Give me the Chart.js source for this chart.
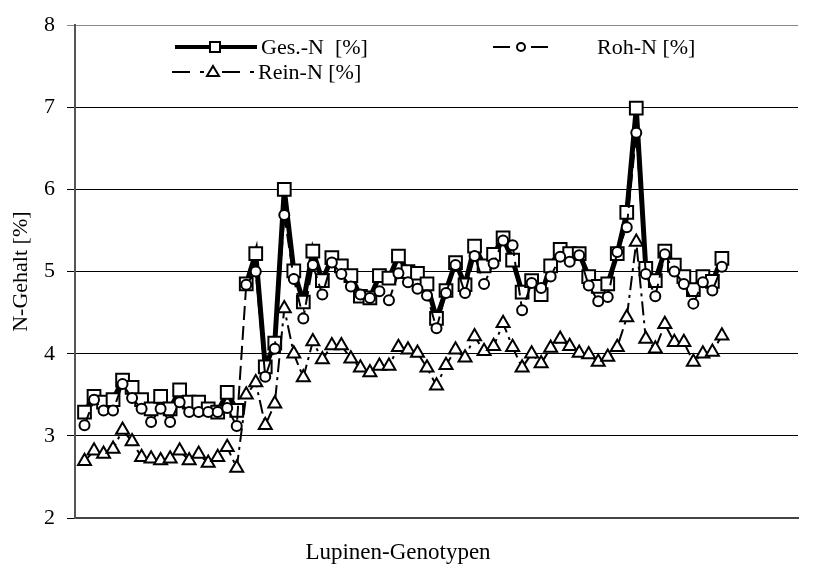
<!DOCTYPE html>
<html>
<head>
<meta charset="utf-8">
<script src="https://cdn.jsdelivr.net/npm/chart.js@4"></script>
<style>
  html, body { margin: 0; padding: 0; background: #fff; }
  #wrap { width: 826px; height: 574px; }
</style>
</head>
<body>
<div id="wrap"><canvas id="chart" width="826" height="574"></canvas></div>
<script>
// N content per lupin genotype (68 genotypes)
const gesN = [
  3.29, 3.48, 3.41, 3.44, 3.68, 3.59, 3.44, 3.33, 3.48, 3.33, 3.56, 3.41, 3.41, 3.33, 3.29, 3.53, 3.31,
  4.85, 5.22, 3.84, 4.13, 6.00, 5.01, 4.63, 5.25, 4.89, 5.17, 5.07, 4.95, 4.70, 4.68, 4.95, 4.92,
  5.19, 5.00, 4.98, 4.85, 4.43, 4.77, 5.11, 4.84, 5.31, 5.07, 5.21, 5.41, 5.14, 4.75, 4.89, 4.72,
  5.07, 5.27, 5.22, 5.22, 4.94, 4.82, 4.85, 5.22, 5.72, 6.99, 5.04, 4.89, 5.25, 5.08, 4.94, 4.78,
  4.94, 4.88, 5.16
];
const rohN = [
  3.13, 3.44, 3.31, 3.31, 3.63, 3.46, 3.33, 3.17, 3.33, 3.17, 3.41, 3.29, 3.29, 3.29, 3.29, 3.34, 3.12,
  4.84, 5.00, 3.72, 4.06, 5.69, 4.91, 4.43, 5.08, 4.72, 5.11, 4.97, 4.82, 4.72, 4.68, 4.76, 4.65,
  4.98, 4.87, 4.79, 4.71, 4.31, 4.74, 5.08, 4.74, 5.19, 4.85, 5.10, 5.38, 5.32, 4.53, 4.86, 4.80,
  4.94, 5.18, 5.12, 5.20, 4.83, 4.64, 4.69, 5.24, 5.54, 6.69, 4.97, 4.70, 5.21, 5.00, 4.85, 4.61,
  4.87, 4.77, 5.06
];
const reinN = [
  2.69, 2.82, 2.78, 2.84, 3.07, 2.93, 2.74, 2.72, 2.70, 2.72, 2.82, 2.70, 2.78, 2.67, 2.74, 2.86, 2.61,
  3.50, 3.65, 3.13, 3.39, 4.55, 4.00, 3.71, 4.15, 3.93, 4.10, 4.10, 3.94, 3.83, 3.77, 3.85, 3.85,
  4.08, 4.05, 4.01, 3.83, 3.61, 3.86, 4.05, 3.95, 4.21, 4.03, 4.09, 4.37, 4.08, 3.83, 4.00, 3.88,
  4.07, 4.18, 4.09, 4.01, 3.99, 3.90, 3.96, 4.08, 4.44, 5.36, 4.18, 4.06, 4.36, 4.14, 4.14, 3.90,
  4.00, 4.02, 4.22
];
const seriesNames = ['Ges.-N  [%]', 'Roh-N [%]', 'Rein-N [%]'];
const xTitle = 'Lupinen-Genotypen';
const yTitle = 'N-Gehalt [%]';
const yTicks = [2, 3, 4, 5, 6, 7, 8];
const xSlots = 76;          // category slots on the x axis (genotypes + empty tail)
const groupBreak = 16;      // Ges.-N line is not joined between the two groups

const FONT = 'Liberation Serif, Times New Roman, serif';

function toPoints(values) {
  return values.map((v, i) => ({ x: i + 1, y: v }));
}

// legend + x title drawn by hand, Excel-like layout
const legendPlugin = {
  id: 'manualLegend',
  afterDraw(chart) {
    const ctx = chart.ctx;
    ctx.save();
    ctx.fillStyle = '#000';
    ctx.strokeStyle = '#000';
    ctx.font = '22px ' + FONT;
    ctx.textBaseline = 'middle';

    // Ges.-N
    let y = 47;
    ctx.lineWidth = 4;
    ctx.setLineDash([]);
    ctx.beginPath(); ctx.moveTo(175, y); ctx.lineTo(257, y); ctx.stroke();
    ctx.lineWidth = 2;
    ctx.fillStyle = '#fff';
    ctx.fillRect(210, y - 5, 10, 10);
    ctx.strokeRect(210, y - 5, 10, 10);
    ctx.fillStyle = '#000';
    ctx.fillText(seriesNames[0], 261, y + 1);

    // Roh-N
    ctx.lineWidth = 2;
    ctx.beginPath(); ctx.moveTo(493, y); ctx.lineTo(510, y); ctx.stroke();
    ctx.beginPath(); ctx.moveTo(531, y); ctx.lineTo(548, y); ctx.stroke();
    ctx.beginPath(); ctx.arc(521, y, 4, 0, Math.PI * 2);
    ctx.fillStyle = '#fff'; ctx.fill(); ctx.stroke();
    ctx.fillStyle = '#000';
    ctx.fillText(seriesNames[1], 597, y + 1);

    // Rein-N
    y = 72;
    ctx.beginPath(); ctx.moveTo(172, y); ctx.lineTo(190, y); ctx.stroke();
    ctx.beginPath(); ctx.moveTo(200, y); ctx.lineTo(204, y); ctx.stroke();
    ctx.beginPath(); ctx.moveTo(222, y); ctx.lineTo(240, y); ctx.stroke();
    ctx.beginPath(); ctx.moveTo(250, y); ctx.lineTo(254, y); ctx.stroke();
    ctx.beginPath();
    ctx.moveTo(213, y - 6); ctx.lineTo(219, y + 4); ctx.lineTo(207, y + 4); ctx.closePath();
    ctx.fillStyle = '#fff'; ctx.fill(); ctx.stroke();
    ctx.fillStyle = '#000';
    ctx.fillText(seriesNames[2], 258, y + 1);

    // x axis title (sits a bit left of the plot centre in the original)
    ctx.font = '23px ' + FONT;
    ctx.textAlign = 'center';
    ctx.fillText(xTitle, 398, 553);
    ctx.restore();
  }
};

const ctx = document.getElementById('chart').getContext('2d');
new Chart(ctx, {
  type: 'line',
  data: {
    datasets: [
      {
        label: seriesNames[0],
        data: toPoints(gesN),
        borderColor: '#000',
        borderWidth: 5,
        pointStyle: 'rect',
        pointRadius: 9,
        pointBorderWidth: 2,
        pointBackgroundColor: '#fff',
        pointBorderColor: '#000',
        tension: 0,
        order: 3,
        segment: {
          borderColor: c => c.p0DataIndex === groupBreak ? 'rgba(0,0,0,0)' : '#000'
        }
      },
      {
        label: seriesNames[1],
        data: toPoints(rohN),
        borderColor: '#000',
        borderWidth: 2,
        borderDash: [14, 6],
        pointStyle: 'circle',
        pointRadius: 5,
        pointBorderWidth: 2,
        pointBackgroundColor: '#fff',
        pointBorderColor: '#000',
        tension: 0,
        order: 2
      },
      {
        label: seriesNames[2],
        data: toPoints(reinN),
        borderColor: '#000',
        borderWidth: 2,
        borderDash: [14, 5, 3, 5],
        pointStyle: 'triangle',
        pointRadius: 7.5,
        pointBorderWidth: 2,
        pointBackgroundColor: '#fff',
        pointBorderColor: '#000',
        tension: 0,
        order: 1
      }
    ]
  },
  options: {
    responsive: false,
    animation: false,
    layout: { padding: { top: 20, right: 28, left: 0, bottom: 0 } },
    plugins: {
      legend: { display: false },
      tooltip: { enabled: false }
    },
    scales: {
      x: {
        type: 'linear',
        min: 0,
        max: xSlots,
        ticks: { display: false },
        grid: { display: false },
        border: { display: true, color: '#444', width: 2 },
        afterFit(scale) { scale.height = 56; }
      },
      y: {
        min: yTicks[0],
        max: yTicks[yTicks.length - 1],
        afterBuildTicks(scale) { scale.ticks = yTicks.map(v => ({ value: v })); },
        ticks: {
          color: '#000',
          font: { family: FONT, size: 22 },
          padding: 12
        },
        grid: {
          color: c => c.tick && c.tick.value === 8 ? '#888' : '#000',
          lineWidth: 1, tickLength: 8, drawTicks: true
        },
        border: { display: true, color: '#555', width: 2 },
        title: {
          display: true,
          text: yTitle,
          color: '#000',
          font: { family: FONT, size: 22 },
          padding: { top: 8, bottom: 0 }
        },
        afterFit(scale) { scale.width = 75; }
      }
    }
  },
  plugins: [legendPlugin]
});
</script>
</body>
</html>
